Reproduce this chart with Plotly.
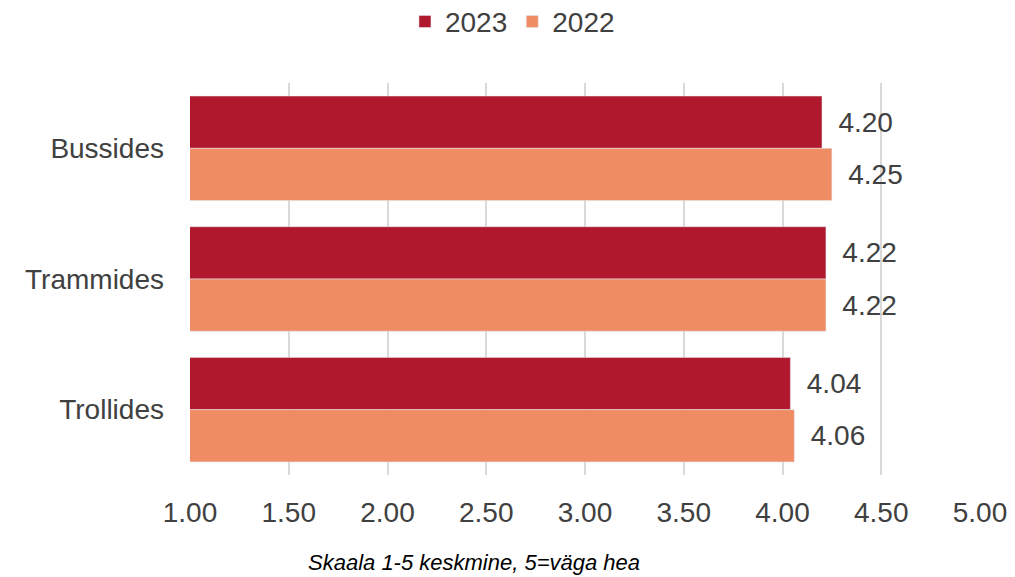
import plotly.graph_objects as go

categories = ["Bussides", "Trammides", "Trollides"]
values_2023 = [4.20, 4.22, 4.04]
values_2022 = [4.25, 4.22, 4.06]
x_ticks = [1.0, 1.5, 2.0, 2.5, 3.0, 3.5, 4.0, 4.5, 5.0]
caption = "Skaala 1-5 keskmine, 5=väga hea"

font_color = "#404040"
label_font = dict(size=28, color=font_color)

fig = go.Figure()
fig.add_trace(go.Bar(
    y=categories, x=values_2023, name="2023", orientation="h",
    marker_color="#B0182D",
    texttemplate="\u00a0\u2009%{x:.2f}", textposition="outside",
    textfont=label_font,
))
fig.add_trace(go.Bar(
    y=categories, x=values_2022, name="2022", orientation="h",
    marker_color="#F08C64",
    texttemplate="\u00a0\u2009%{x:.2f}", textposition="outside",
    textfont=label_font,
))

fig.update_layout(
    width=1015, height=577,
    barmode="group", bargap=0.2, bargroupgap=0,
    plot_bgcolor="white", paper_bgcolor="white",
    font=dict(family="Liberation Sans, Arial, sans-serif", size=28, color=font_color),
    margin=dict(l=182, r=43, t=75, b=110),
    legend=dict(orientation="h", xref="container", yref="container",
                x=0.497, xanchor="center", y=0.976, yanchor="middle",
                font=label_font, itemwidth=30, traceorder="normal"),
    annotations=[dict(text="<i>" + caption + "</i>", xref="paper", yref="paper",
                      x=0.359, y=-0.224, xanchor="center", yanchor="middle", showarrow=False,
                      font=dict(size=22, color="black"))],
)
fig.update_xaxes(range=[1, 5], tickvals=x_ticks, tickformat=".2f",
                 showgrid=True, gridcolor="#D9D9D9", gridwidth=1.5,
                 zeroline=False, showline=False, ticks="", ticklabelstandoff=18,
                 automargin=False)
fig.update_yaxes(autorange="reversed", showgrid=False, zeroline=False,
                 showline=False, ticks="", ticklabelstandoff=25, automargin=False)

fig.write_html("out.html")
